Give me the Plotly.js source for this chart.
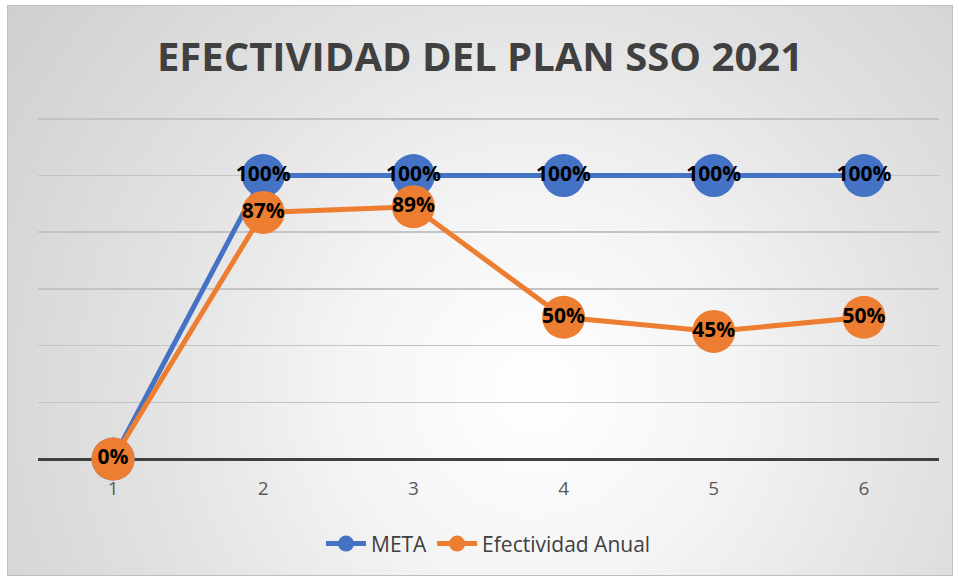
<!DOCTYPE html>
<html>
<head>
<meta charset="utf-8">
<script src="https://cdn.plot.ly/plotly-3.0.1.min.js"></script>
<style>
  body { margin: 0; background: #fff; }
  #frame {
    position: absolute; left: 7px; top: 5px; width: 944px; height: 569px;
    border: 1px solid #bfbfbf;
    background: radial-gradient(circle at 56% 68%, #ffffff 0%, #f4f4f4 30%, #e2e2e2 60%, #cfcfcf 100%);
  }
  #plot { width: 944px; height: 569px; }
</style>
</head>
<body>
<div id="frame"><div id="plot"></div></div>
<script>
// datos del grafico
var periodos = [1, 2, 3, 4, 5, 6];
var meta = [0, 1, 1, 1, 1, 1];
var efectividad = [0, 0.87, 0.89, 0.50, 0.45, 0.50];

function etiquetas(vals) {
  return vals.map(function (v) { return Math.round(v * 100) + '%'; });
}

var lblFont = {family: 'Open Sans, sans-serif', size: 21, color: '#000', weight: 700};

var trace1 = {
  x: periodos,
  y: meta,
  mode: 'lines+markers+text',
  name: 'META',
  type: 'scatter',
  text: etiquetas(meta),
  textposition: 'middle center',
  textfont: lblFont,
  line: {color: '#4472C4', width: 5},
  marker: {color: '#4472C4', size: 43},
  cliponaxis: false
};

var trace2 = {
  x: periodos,
  y: efectividad,
  mode: 'lines+markers+text',
  name: 'Efectividad Anual',
  type: 'scatter',
  text: etiquetas(efectividad),
  textposition: 'middle center',
  textfont: lblFont,
  line: {color: '#ED7D31', width: 5},
  marker: {color: '#ED7D31', size: 43},
  cliponaxis: false
};

var layout = {
  width: 944,
  height: 569,
  margin: {l: 30, r: 13, t: 110, b: 115},
  paper_bgcolor: 'rgba(0,0,0,0)',
  plot_bgcolor: 'rgba(0,0,0,0)',
  title: {
    text: 'EFECTIVIDAD DEL PLAN SSO 2021',
    font: {family: 'Open Sans, sans-serif', size: 40, color: '#404040', weight: 700},
    x: 0.5, xanchor: 'center',
    y: 0.91, yref: 'container', yanchor: 'middle'
  },
  xaxis: {
    range: [0.5, 6.5],
    tickvals: periodos,
    ticktext: periodos.map(String),
    showgrid: false,
    zeroline: false,
    showline: false,
    ticks: '',
    ticklabelstandoff: 16,
    tickfont: {family: 'Open Sans, sans-serif', size: 19, color: '#595959'},
    fixedrange: true
  },
  yaxis: {
    range: [0, 1.21],
    tickvals: [0.2, 0.4, 0.6, 0.8, 1.0, 1.2],
    showticklabels: false,
    gridcolor: '#c3c3c3',
    gridwidth: 1.5,
    zeroline: true,
    zerolinecolor: '#404040',
    zerolinewidth: 3,
    fixedrange: true
  },
  showlegend: true,
  legend: {
    orientation: 'h',
    x: 0.5, xanchor: 'center',
    y: -0.244, yanchor: 'middle',
    font: {family: 'Open Sans, sans-serif', size: 21, color: '#404040'},
    bgcolor: 'rgba(0,0,0,0)',
    itemwidth: 40
  }
};

Plotly.newPlot('plot', [trace1, trace2], layout, {displayModeBar: false, staticPlot: true});
</script>
</body>
</html>
